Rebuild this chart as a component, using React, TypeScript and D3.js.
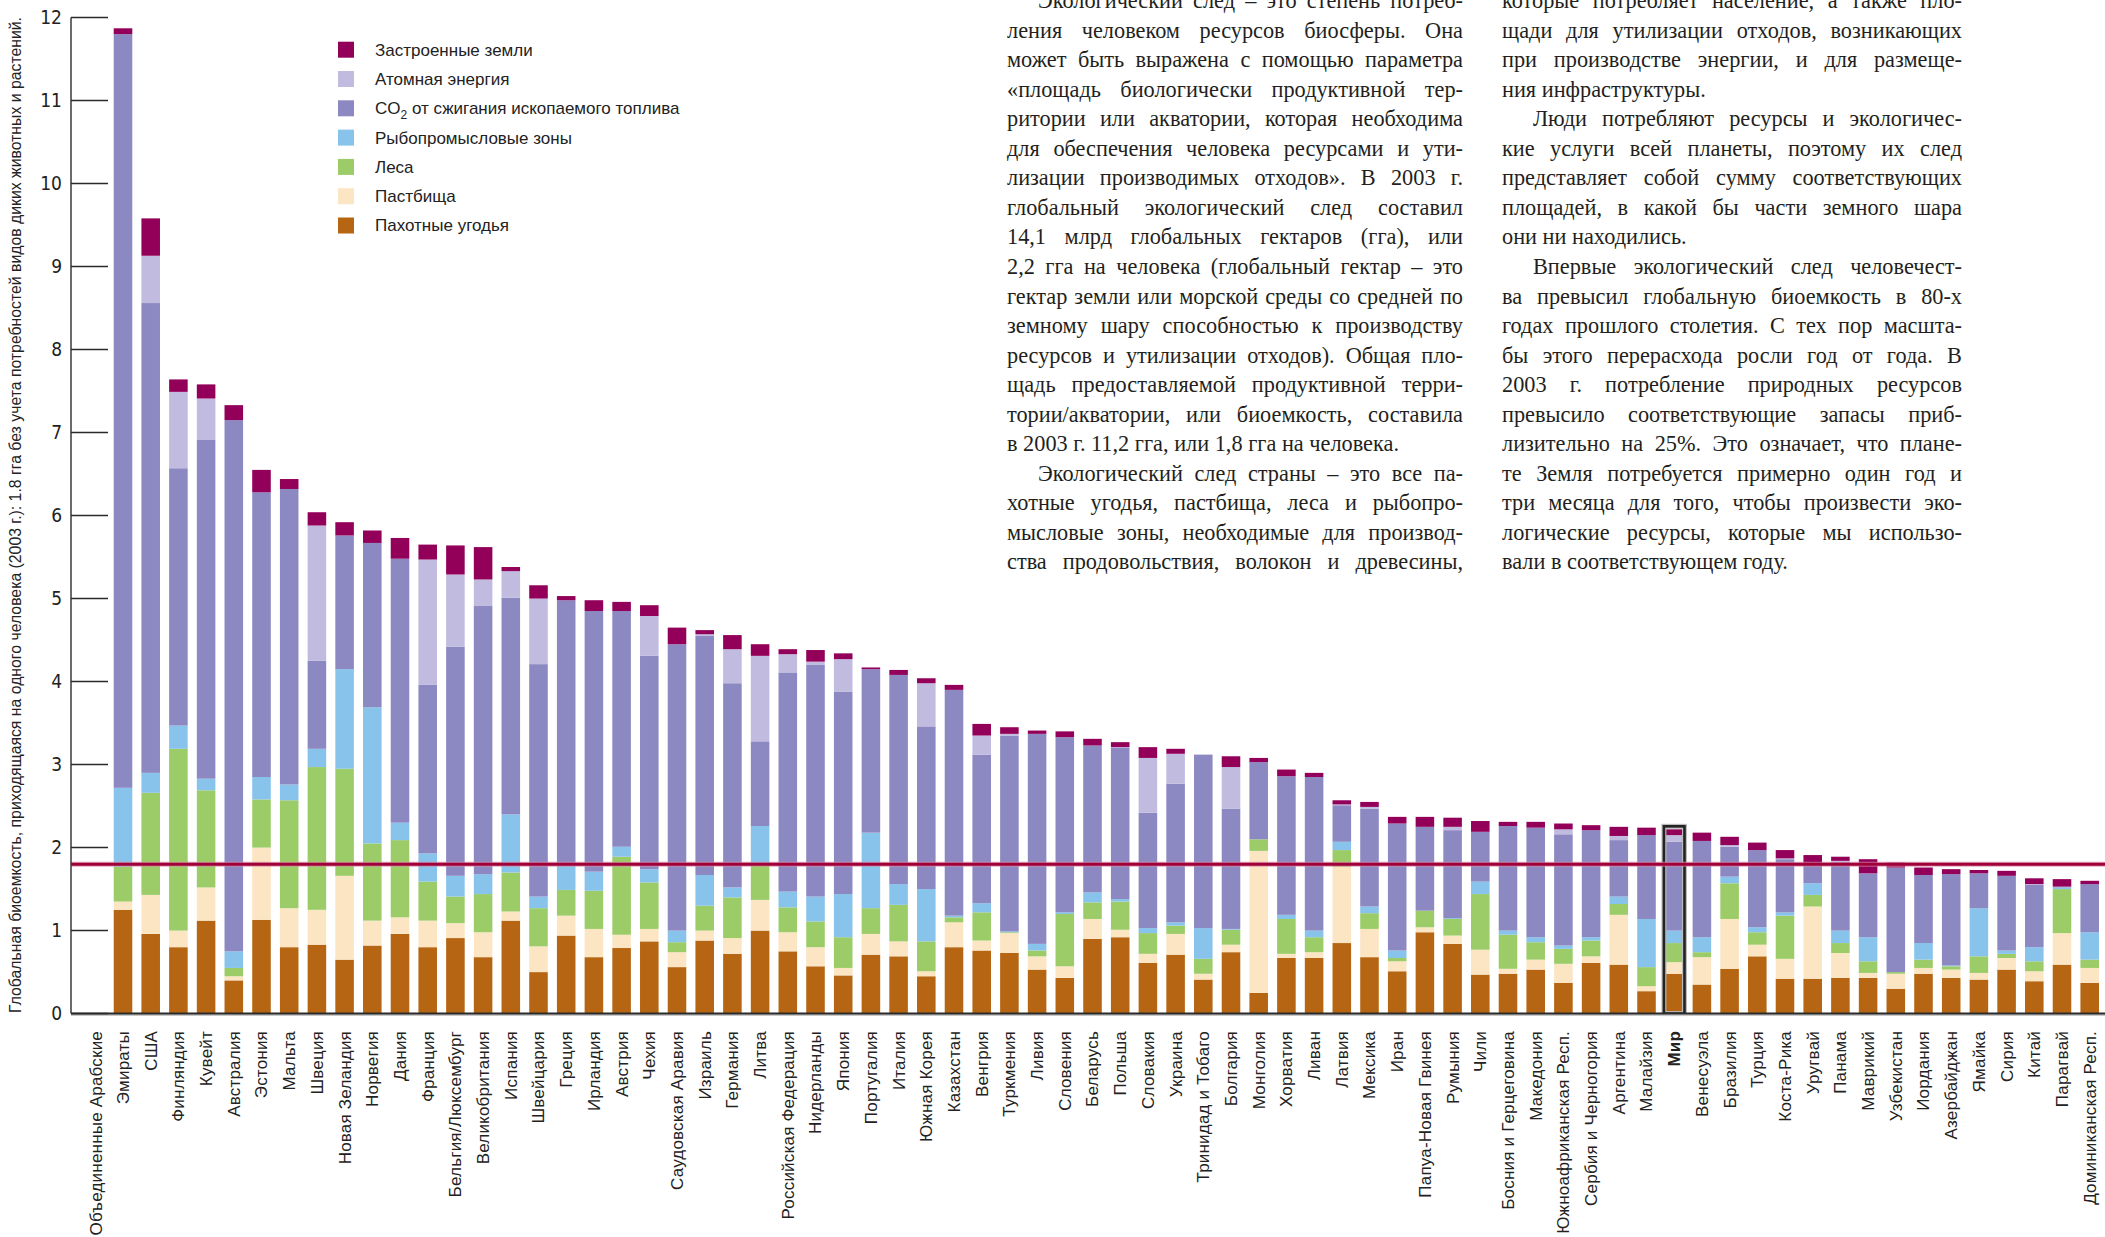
import React, { useLayoutEffect, useRef, useState, useEffect } from 'react';
import * as d3 from 'd3';

// ---------------- DATA ----------------
const countries = [
  'Объединенные Арабские\nЭмираты', 'США', 'Финляндия', 'Кувейт', 'Австралия', 'Эстония', 'Мальта', 'Швеция',
  'Новая Зеландия', 'Норвегия', 'Дания', 'Франция', 'Бельгия/Люксембург', 'Великобритания', 'Испания',
  'Швейцария', 'Греция', 'Ирландия', 'Австрия', 'Чехия', 'Саудовская Аравия', 'Израиль', 'Германия', 'Литва',
  'Российская Федерация', 'Нидерланды', 'Япония', 'Португалия', 'Италия', 'Южная Корея', 'Казахстан', 'Венгрия',
  'Туркмения', 'Ливия', 'Словения', 'Беларусь', 'Польша', 'Словакия', 'Украина', 'Тринидад и Тобаго', 'Болгария',
  'Монголия', 'Хорватия', 'Ливан', 'Латвия', 'Мексика', 'Иран', 'Папуа-Новая Гвинея', 'Румыния', 'Чили',
  'Босния и Герцеговина', 'Македония', 'Южноафриканская Респ.', 'Сербия и Черногория', 'Аргентина', 'Малайзия',
  'Мир', 'Венесуэла', 'Бразилия', 'Турция', 'Коста-Рика', 'Уругвай', 'Панама', 'Маврикий', 'Узбекистан',
  'Иордания', 'Азербайджан', 'Ямайка', 'Сирия', 'Китай', 'Парагвай', 'Доминиканская Респ.'
];

const cropland = [
  1.25, 0.96, 0.80, 1.12, 0.40, 1.13, 0.80, 0.83, 0.65, 0.82, 0.96, 0.80, 0.91, 0.68, 1.12, 0.50, 0.94, 0.68,
  0.79, 0.87, 0.56, 0.88, 0.72, 1.00, 0.75, 0.57, 0.46, 0.71, 0.69, 0.45, 0.80, 0.76, 0.73, 0.53, 0.43, 0.90,
  0.92, 0.61, 0.71, 0.41, 0.74, 0.25, 0.67, 0.67, 0.85, 0.68, 0.51, 0.98, 0.84, 0.47, 0.48, 0.53, 0.37, 0.61,
  0.59, 0.27, 0.48, 0.35, 0.54, 0.69, 0.42, 0.42, 0.43, 0.43, 0.30, 0.48, 0.43, 0.41, 0.53, 0.39, 0.59, 0.37
];
const grazing = [
  0.10, 0.47, 0.20, 0.40, 0.05, 0.87, 0.47, 0.42, 1.01, 0.30, 0.20, 0.32, 0.18, 0.30, 0.11, 0.31, 0.24, 0.34,
  0.16, 0.15, 0.18, 0.12, 0.19, 0.37, 0.23, 0.23, 0.09, 0.25, 0.18, 0.06, 0.30, 0.12, 0.24, 0.16, 0.14, 0.24,
  0.09, 0.11, 0.25, 0.07, 0.09, 1.71, 0.05, 0.07, 0.92, 0.34, 0.12, 0.06, 0.10, 0.30, 0.06, 0.12, 0.23, 0.08,
  0.60, 0.06, 0.14, 0.33, 0.60, 0.14, 0.24, 0.87, 0.30, 0.06, 0.18, 0.07, 0.10, 0.08, 0.14, 0.12, 0.38, 0.18
];
const forest = [
  0.42, 1.23, 2.19, 1.17, 0.10, 0.58, 1.30, 1.72, 1.29, 0.93, 0.93, 0.47, 0.32, 0.46, 0.47, 0.46, 0.31, 0.46,
  0.94, 0.56, 0.12, 0.30, 0.49, 0.42, 0.30, 0.31, 0.37, 0.31, 0.44, 0.36, 0.06, 0.34, 0.01, 0.07, 0.63, 0.20,
  0.34, 0.25, 0.10, 0.18, 0.18, 0.14, 0.42, 0.18, 0.20, 0.19, 0.04, 0.20, 0.20, 0.67, 0.41, 0.21, 0.18, 0.19,
  0.13, 0.23, 0.23, 0.06, 0.43, 0.15, 0.52, 0.14, 0.12, 0.14, 0.02, 0.10, 0.04, 0.20, 0.05, 0.12, 0.53, 0.10
];
const fishing = [
  0.95, 0.24, 0.28, 0.14, 0.20, 0.27, 0.19, 0.22, 1.20, 1.64, 0.21, 0.34, 0.25, 0.24, 0.70, 0.14, 0.29, 0.23,
  0.12, 0.16, 0.14, 0.37, 0.12, 0.47, 0.19, 0.30, 0.52, 0.91, 0.25, 0.63, 0.02, 0.11, 0.01, 0.08, 0.02, 0.12,
  0.03, 0.06, 0.04, 0.37, 0.01, 0.00, 0.05, 0.08, 0.10, 0.08, 0.09, 0.00, 0.01, 0.15, 0.05, 0.06, 0.04, 0.04,
  0.09, 0.58, 0.15, 0.18, 0.08, 0.06, 0.04, 0.14, 0.15, 0.29, 0.00, 0.20, 0.01, 0.58, 0.04, 0.17, 0.02, 0.33
];
const co2 = [
  9.08, 5.66, 3.10, 4.08, 6.40, 3.43, 3.56, 1.06, 1.61, 1.98, 3.18, 2.03, 2.76, 3.23, 2.61, 2.80, 3.20, 3.14,
  2.84, 2.57, 3.45, 2.88, 2.46, 1.02, 2.64, 2.79, 2.44, 1.97, 2.52, 1.96, 2.72, 1.79, 2.36, 2.53, 2.11, 1.77,
  1.82, 1.39, 1.67, 2.09, 1.45, 0.93, 1.67, 1.85, 0.44, 1.18, 1.53, 1.01, 1.06, 0.60, 1.26, 1.32, 1.34, 1.29,
  0.68, 1.01, 1.07, 1.16, 0.36, 0.93, 0.64, 0.23, 0.83, 0.77, 1.26, 0.82, 1.10, 0.42, 0.90, 0.75, 0.01, 0.58
];
const nuclear = [
  0.00, 0.57, 0.92, 0.50, 0.00, 0.00, 0.00, 1.63, 0.00, 0.00, 0.00, 1.51, 0.87, 0.32, 0.32, 0.79, 0.00, 0.00,
  0.00, 0.48, 0.00, 0.02, 0.41, 1.03, 0.22, 0.04, 0.39, 0.00, 0.00, 0.52, 0.00, 0.23, 0.02, 0.00, 0.00, 0.00,
  0.01, 0.66, 0.36, 0.00, 0.50, 0.00, 0.00, 0.00, 0.01, 0.02, 0.00, 0.00, 0.04, 0.00, 0.00, 0.00, 0.06, 0.00,
  0.05, 0.00, 0.08, 0.00, 0.02, 0.00, 0.01, 0.00, 0.01, 0.00, 0.00, 0.00, 0.00, 0.00, 0.00, 0.01, 0.00, 0.00
];
const builtUp = [
  0.07, 0.45, 0.15, 0.17, 0.18, 0.27, 0.12, 0.16, 0.16, 0.15, 0.25, 0.18, 0.35, 0.39, 0.05, 0.16, 0.05, 0.13,
  0.11, 0.13, 0.20, 0.05, 0.17, 0.14, 0.06, 0.14, 0.07, 0.02, 0.06, 0.06, 0.06, 0.14, 0.08, 0.04, 0.07, 0.08,
  0.06, 0.13, 0.06, 0.00, 0.13, 0.05, 0.08, 0.05, 0.05, 0.06, 0.08, 0.12, 0.11, 0.13, 0.05, 0.07, 0.07, 0.06,
  0.11, 0.09, 0.07, 0.10, 0.10, 0.09, 0.10, 0.11, 0.05, 0.17, 0.06, 0.09, 0.06, 0.04, 0.06, 0.07, 0.09, 0.04
];

const layerKeys = ['crop', 'pasture', 'forest', 'fish', 'co2', 'nuclear', 'built'];
const layerNames = [
  'Пахотные угодья', 'Пастбища', 'Леса', 'Рыбопромысловые зоны',
  'CO2 от сжигания ископаемого топлива', 'Атомная энергия', 'Застроенные земли'
];
const layerColors = ['#b66613', '#fbe5c3', '#9ccc68', '#87c3ea', '#8c88c1', '#c0bbdf', '#93005a'];

const yTicks = [0, 1, 2, 3, 4, 5, 6, 7, 8, 9, 10, 11, 12];
const biocapacity = 1.8;
const worldName = 'Мир';
const axisTitle =
  'Глобальная биоемкость, приходящаяся на одного человека (2003 г.): 1.8 гга без учета потребностей видов диких животных и растений.';

// text columns: [line, indent, justify]
const leftColumn: [string, boolean, boolean][] = [
  ['Экологический след – это степень потреб-', true, true],
  ['ления человеком ресурсов биосферы. Она', false, true],
  ['может быть выражена с помощью параметра', false, true],
  ['«площадь биологически продуктивной тер-', false, true],
  ['ритории или акватории, которая необходима', false, true],
  ['для обеспечения человека ресурсами и ути-', false, true],
  ['лизации производимых отходов». В 2003 г.', false, true],
  ['глобальный экологический след составил', false, true],
  ['14,1 млрд глобальных гектаров (гга), или', false, true],
  ['2,2 гга на человека (глобальный гектар – это', false, true],
  ['гектар земли или морской среды со средней по', false, true],
  ['земному шару способностью к производству', false, true],
  ['ресурсов и утилизации отходов). Общая пло-', false, true],
  ['щадь предоставляемой продуктивной терри-', false, true],
  ['тории/акватории, или биоемкость, составила', false, true],
  ['в 2003 г. 11,2 гга, или 1,8 гга на человека.', false, false],
  ['Экологический след страны – это все па-', true, true],
  ['хотные угодья, пастбища, леса и рыбопро-', false, true],
  ['мысловые зоны, необходимые для производ-', false, true],
  ['ства продовольствия, волокон и древесины,', false, true],
];
const rightColumn: [string, boolean, boolean][] = [
  ['которые потребляет население, а также пло-', false, true],
  ['щади для утилизации отходов, возникающих', false, true],
  ['при производстве энергии, и для размеще-', false, true],
  ['ния инфраструктуры.', false, false],
  ['Люди потребляют ресурсы и экологичес-', true, true],
  ['кие услуги всей планеты, поэтому их след', false, true],
  ['представляет собой сумму соответствующих', false, true],
  ['площадей, в какой бы части земного шара', false, true],
  ['они ни находились.', false, false],
  ['Впервые экологический след человечест-', true, true],
  ['ва превысил глобальную биоемкость в 80-х', false, true],
  ['годах прошлого столетия. С тех пор масшта-', false, true],
  ['бы этого перерасхода росли год от года. В', false, true],
  ['2003 г. потребление природных ресурсов', false, true],
  ['превысило соответствующие запасы приб-', false, true],
  ['лизительно на 25%. Это означает, что плане-', false, true],
  ['те Земля потребуется примерно один год и', false, true],
  ['три месяца для того, чтобы произвести эко-', false, true],
  ['логические ресурсы, которые мы использо-', false, true],
  ['вали в соответствующем году.', false, false],
];

// ---------------- COMPONENTS ----------------
const W = 2105;
const H = 1237;
const SANS = 'Arial, "Liberation Sans", Helvetica, sans-serif';
const NARROW = '"Liberation Sans Narrow", "Arial Narrow", "DejaVu Sans Condensed", Arial, sans-serif';
const SERIF = '"Liberation Serif", "Times New Roman", "DejaVu Serif", serif';

function TextLine({ x, y, width, text, justify }: { x: number; y: number; width: number; text: string; justify: boolean }) {
  const ref = useRef<SVGTextElement>(null);
  const [tick, setTick] = useState(0);
  useEffect(() => {
    if ((document as any).fonts && (document as any).fonts.ready) {
      (document as any).fonts.ready.then(() => setTick((t) => t + 1));
    }
  }, []);
  useLayoutEffect(() => {
    const el = ref.current;
    if (!el || !justify) return;
    el.style.wordSpacing = '0px';
    const w = el.getComputedTextLength();
    const n = (text.match(/ /g) || []).length;
    if (n > 0) el.style.wordSpacing = `${(width - w) / n}px`;
  }, [text, width, justify, tick]);
  return (
    <text ref={ref} x={x} y={y} fontFamily={SERIF} fontSize={22.3} fill="#231f20" style={{ whiteSpace: 'pre' }}>
      {text}
    </text>
  );
}

function TextColumn({ lines, x0, x1 }: { lines: [string, boolean, boolean][]; x0: number; x1: number }) {
  const indent = 31;
  return (
    <g>
      {lines.map(([t, ind, just], i) => {
        const x = ind ? x0 + indent : x0;
        return <TextLine key={i} x={x} y={8 + 29.55 * i} width={x1 - x} text={t} justify={just} />;
      })}
    </g>
  );
}

export default function App() {
  useEffect(() => {
    document.body.style.margin = '0';
  }, []);

  const table = countries.map((c, i) => ({
    country: c,
    crop: cropland[i],
    pasture: grazing[i],
    forest: forest[i],
    fish: fishing[i],
    co2: co2[i],
    nuclear: nuclear[i],
    built: builtUp[i],
  }));

  const x = d3
    .scaleBand<string>()
    .domain(countries)
    .range([109.15, 2103.55])
    .paddingInner(0.33)
    .paddingOuter(0.165);
  const y = d3.scaleLinear().domain([0, 12]).range([1013.6, 17.5]);

  const series = d3.stack<any>().keys(layerKeys)(table);
  const bw = x.bandwidth();
  const axisX = 71;

  const worldIdx = countries.indexOf(worldName);
  const worldRow = table[worldIdx];
  const worldTotal = layerKeys.reduce((s, k) => s + (worldRow as any)[k], 0);
  const wx = x(worldName)!;

  const legendItems = layerKeys.map((k, i) => ({ key: k, name: layerNames[i], color: layerColors[i] })).reverse();

  return (
    <svg width={W} height={H} style={{ position: 'absolute', left: 0, top: 0, background: '#fff' }}>
      <rect x={0} y={0} width={W} height={H} fill="#fff" />

      {/* text block */}
      <TextColumn lines={leftColumn} x0={1007} x1={1463} />
      <TextColumn lines={rightColumn} x0={1502} x1={1962} />

      {/* bars */}
      {series.map((s, si) => (
        <g key={s.key} fill={layerColors[si]}>
          {s.map((d, i) => {
            const h = y(d[0]) - y(d[1]);
            if (h <= 0) return null;
            return <rect key={i} x={x(countries[i])} y={y(d[1])} width={bw} height={h} />;
          })}
        </g>
      ))}

      {/* world outline */}
      <rect
        x={wx - 1}
        y={y(worldTotal) - 3}
        width={bw + 2}
        height={y(0) - y(worldTotal) + 3}
        fill="none"
        stroke="#bbb"
        strokeWidth={5}
      />
      <rect
        x={wx - 1}
        y={y(worldTotal) - 3}
        width={bw + 2}
        height={y(0) - y(worldTotal) + 3}
        fill="none"
        stroke="#222"
        strokeWidth={2.6}
      />

      {/* biocapacity line */}
      <line x1={axisX} x2={W} y1={y(biocapacity)} y2={y(biocapacity)} stroke="#d98aa4" strokeOpacity={0.7} strokeWidth={5} />
      <line x1={axisX} x2={W} y1={y(biocapacity)} y2={y(biocapacity)} stroke="#a0003a" strokeWidth={3} />

      {/* baseline */}
      <line x1={axisX} x2={W} y1={y(0) + 1} y2={y(0) + 1} stroke="#c8c8c8" strokeWidth={3} />
      <line x1={axisX} x2={W} y1={y(0)} y2={y(0)} stroke="#2a2a2a" strokeWidth={2} />

      {/* y axis */}
      <line x1={axisX} x2={axisX} y1={y(12)} y2={y(0)} stroke="#3a3a3a" strokeWidth={1.5} />
      {yTicks.map((t) => (
        <g key={t}>
          <line x1={axisX} x2={108} y1={y(t)} y2={y(t)} stroke="#2a2a2a" strokeWidth={1.5} />
          <text x={62} y={y(t)} dy="0.35em" textAnchor="end" fontFamily={NARROW} fontSize={19} fill="#222">
            {t}
          </text>
        </g>
      ))}

      {/* axis title */}
      <text
        transform={`translate(21, 1013) rotate(-90)`}
        fontFamily={SANS}
        fontSize={15.8}
        fill="#222"
        textAnchor="start"
      >
        {axisTitle}
      </text>

      {/* legend */}
      {legendItems.map((it, i) => {
        const cy = 49.7 + i * 29.3;
        return (
          <g key={it.key}>
            <rect x={338} y={cy - 8} width={16} height={16} fill={it.color} />
            <text x={375} y={cy} dy="0.35em" fontFamily={SANS} fontSize={17} fill="#222">
              {it.key === 'co2' ? (
                <>
                  CO
                  <tspan dy="5" fontSize={12}>
                    2
                  </tspan>
                  <tspan dy="-5">{' от сжигания ископаемого топлива'}</tspan>
                </>
              ) : (
                it.name
              )}
            </text>
          </g>
        );
      })}

      {/* category labels */}
      {countries.map((c) => {
        const cx = x(c)! + bw / 2;
        const lines = c.split('\n');
        return lines.map((ln, li) => (
          <text
            key={c + li}
            transform={`translate(${cx - (lines.length - 1 - li) * 27}, 1031) rotate(-90)`}
            dy="0.35em"
            textAnchor="end"
            fontFamily={SANS}
            fontSize={17}
            letterSpacing={0.2}
            fontWeight={c === worldName ? 'bold' : 'normal'}
            fill="#222"
          >
            {ln}
          </text>
        ));
      })}
    </svg>
  );
}
